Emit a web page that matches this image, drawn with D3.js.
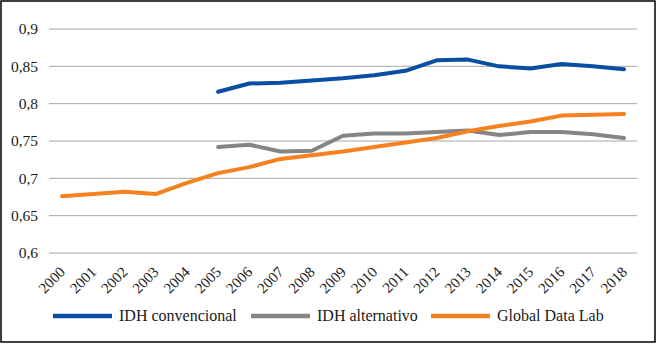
<!DOCTYPE html>
<html>
<head>
<meta charset="utf-8">
<script src="https://d3js.org/d3.v7.min.js"></script>
<style>
  body { margin: 0; background: #fff; }
  #chart text { font-family: "Liberation Serif", "Times New Roman", Times; fill: #1a1a1a; }
</style>
</head>
<body>
<svg id="chart" width="657" height="345"></svg>
<script>
// Data
const years = ["2000", "2001", "2002", "2003", "2004", "2005", "2006", "2007", "2008", "2009",
               "2010", "2011", "2012", "2013", "2014", "2015", "2016", "2017", "2018"];

const idhConvencional = [null, null, null, null, null, 0.816, 0.827, 0.828, 0.831, 0.834,
                         0.838, 0.844, 0.858, 0.859, 0.850, 0.847, 0.853, 0.850, 0.846];
const idhAlternativo = [null, null, null, null, null, 0.742, 0.745, 0.736, 0.737, 0.757,
                        0.760, 0.760, 0.762, 0.764, 0.758, 0.762, 0.762, 0.759, 0.754];
const globalDataLab = [0.676, 0.679, 0.682, 0.679, 0.694, 0.707, 0.715, 0.726, 0.731, 0.736,
                       0.742, 0.748, 0.754, 0.763, 0.770, 0.776, 0.784, 0.785, 0.786];

const yTicks = [0.6, 0.65, 0.7, 0.75, 0.8, 0.85, 0.9];

const seriesNames = ["IDH convencional", "IDH alternativo", "Global Data Lab"];
const seriesColors = ["#0a4ea3", "#858585", "#f5821f"];
const seriesValues = [idhConvencional, idhAlternativo, globalDataLab];

const svg = d3.select("#chart");

// frame
svg.append("rect")
    .attr("x", 1).attr("y", 1)
    .attr("width", 654).attr("height", 341)
    .attr("fill", "none")
    .attr("stroke", "#000")
    .attr("stroke-width", 1.5);

const plotLeft = 49, plotRight = 637;

const x = d3.scalePoint()
    .domain(years)
    .range([62, 624]);

const y = d3.scaleLinear()
    .domain([0.6, 0.9])
    .range([253, 29]);

const fmt = d => String(d).replace(".", ",");

// gridlines
svg.append("g")
    .selectAll("line")
    .data(yTicks)
    .join("line")
    .attr("x1", plotLeft)
    .attr("x2", plotRight)
    .attr("y1", d => y(d))
    .attr("y2", d => y(d))
    .attr("stroke", "#a6a6a6")
    .attr("stroke-width", 1);

// y axis labels
svg.append("g")
    .selectAll("text")
    .data(yTicks)
    .join("text")
    .attr("x", plotLeft - 11)
    .attr("y", d => y(d))
    .attr("dy", "0.35em")
    .attr("text-anchor", "end")
    .attr("font-size", 15.5)
    .text(fmt);

// x axis labels, rotated
svg.append("g")
    .selectAll("text")
    .data(years)
    .join("text")
    .attr("text-anchor", "end")
    .attr("font-size", 15)
    .attr("transform", d => `translate(${x(d) + 4},${y(0.6) + 20}) rotate(-45)`)
    .text(d => d);

// lines
const line = d3.line()
    .defined(d => d.v !== null)
    .x(d => x(d.year))
    .y(d => y(d.v));

seriesValues.forEach((vals, i) => {
    const pts = years.map((yr, j) => ({ year: yr, v: vals[j] }));
    svg.append("path")
        .datum(pts)
        .attr("fill", "none")
        .attr("stroke", seriesColors[i])
        .attr("stroke-width", 4)
        .attr("stroke-linejoin", "round")
        .attr("stroke-linecap", "round")
        .attr("d", line);
});

// legend
const legendX = [53, 251, 431];
const legend = svg.append("g")
    .selectAll("g")
    .data(seriesNames)
    .join("g")
    .attr("transform", (d, i) => `translate(${legendX[i]},316)`);

legend.append("line")
    .attr("x1", 0).attr("x2", 59)
    .attr("y1", 0).attr("y2", 0)
    .attr("stroke", (d, i) => seriesColors[i])
    .attr("stroke-width", 4.5);

legend.append("text")
    .attr("x", 66)
    .attr("y", 5)
    .attr("font-size", 16)
    .text(d => d);
</script>
</body>
</html>
